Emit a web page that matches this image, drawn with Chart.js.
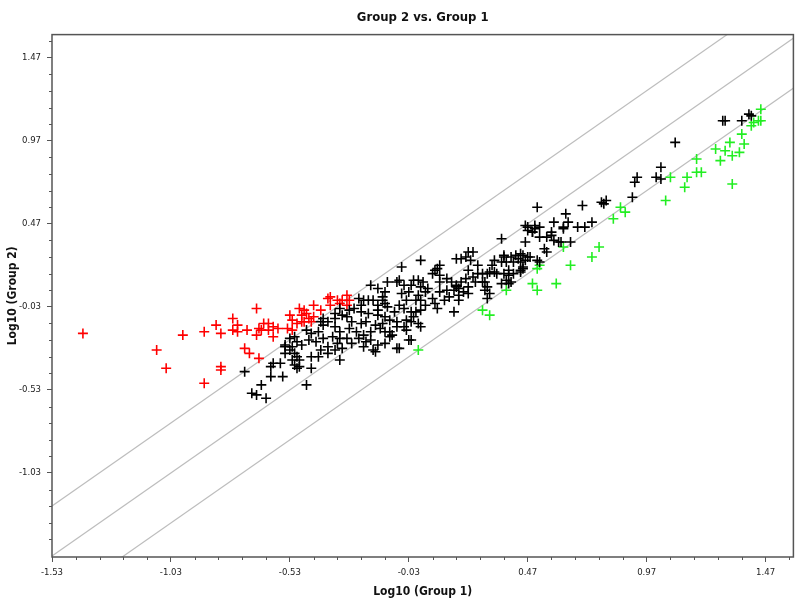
<!DOCTYPE html>
<html>
<head>
<meta charset="utf-8">
<title>Group 2 vs. Group 1</title>
<script src="https://cdn.jsdelivr.net/npm/chart.js@4.4.1/dist/chart.umd.min.js"></script>
<style>
  html, body { margin: 0; padding: 0; background: #fff; }
  #wrap { width: 800px; height: 604px; }
</style>
</head>
<body>
<div id="wrap"><canvas id="scatterCanvas"></canvas></div>
<script>
// tick labels (major)
const xTicks = [-1.53, -1.03, -0.53, -0.03, 0.47, 0.97, 1.47];
const yTicks = [-1.03, -0.53, -0.03, 0.47, 0.97, 1.47];
const minorStep = 0.1;
const xRange = [-1.53, 1.587];
const yRange = [-1.536, 1.609];

// reference lines y = x + offset (2-fold lines and identity)
const lineOffsets = [0.301, 0, -0.301];
const lineX = [-2, 2];

// points, [log10 group 1, log10 group 2]
const redPts = [
  [-1.40, -0.19], [-1.09, -0.29], [-1.05, -0.40], [-0.98, -0.20], [-0.89, -0.18],
  [-0.89, -0.49], [-0.84, -0.14], [-0.82, -0.19], [-0.82, -0.39], [-0.82, -0.41],
  [-0.77, -0.10], [-0.77, -0.17], [-0.75, -0.14], [-0.75, -0.18], [-0.71, -0.17],
  [-0.72, -0.28], [-0.70, -0.31], [-0.67, -0.04], [-0.66, -0.34], [-0.67, -0.20],
  [-0.66, -0.16], [-0.64, -0.13], [-0.62, -0.13], [-0.60, -0.15], [-0.58, -0.16],
  [-0.60, -0.21], [-0.53, -0.08], [-0.52, -0.11], [-0.52, -0.17], [-0.54, -0.16],
  [-0.49, -0.04], [-0.47, -0.05], [-0.48, -0.08], [-0.46, -0.07], [-0.45, -0.10],
  [-0.44, -0.12], [-0.47, -0.12], [-0.43, -0.02], [-0.43, -0.09], [-0.40, -0.05],
  [-0.36, -0.02], [-0.36, 0.03], [-0.33, 0.01], [-0.32, -0.01], [-0.31, 0.01],
  [-0.29, 0.04], [-0.28, 0.01], [-0.29, -0.02], [-0.37, 0.02], [-0.50, -0.13],
  [-0.65, -0.17], [-0.62, -0.17], [-0.48, -0.12]
];

const greenPts = [
  [0.01, -0.29], [0.28, -0.05], [0.31, -0.08], [0.38, 0.07], [0.49, 0.11],
  [0.51, 0.07], [0.51, 0.20], [0.52, 0.22], [0.59, 0.11], [0.62, 0.33],
  [0.65, 0.22], [0.74, 0.27], [0.77, 0.33], [0.83, 0.50], [0.86, 0.57],
  [0.88, 0.54], [1.05, 0.61], [1.07, 0.75], [1.13, 0.69], [1.14, 0.75],
  [1.18, 0.86], [1.18, 0.78], [1.20, 0.78], [1.26, 0.92], [1.28, 0.85],
  [1.30, 0.91], [1.32, 0.96], [1.33, 0.88], [1.33, 0.71], [1.36, 0.90],
  [1.37, 1.01], [1.38, 0.95], [1.41, 1.06], [1.42, 1.08], [1.44, 1.09],
  [1.45, 1.09], [1.45, 1.16]
];

const blackPts = [
  [1.29, 1.09], [1.30, 1.09], [1.37, 1.09], [1.40, 1.13], [1.41, 1.12],
  [1.09, 0.96], [1.03, 0.81], [1.01, 0.75], [1.03, 0.74], [0.93, 0.75],
  [0.92, 0.72], [0.91, 0.63], [0.78, 0.60], [0.80, 0.61], [0.79, 0.59],
  [0.70, 0.58], [0.63, 0.53], [0.64, 0.48], [0.68, 0.45], [0.71, 0.45],
  [0.74, 0.48], [0.58, 0.48], [0.51, 0.57], [0.50, 0.46], [0.47, 0.45],
  [0.52, 0.45], [0.49, 0.42], [0.52, 0.39], [0.55, 0.39], [0.57, 0.40],
  [0.58, 0.37], [0.62, 0.45], [0.61, 0.36], [0.65, 0.36], [0.46, 0.36],
  [0.55, 0.30], [0.47, 0.27], [0.36, 0.38], [0.44, 0.29], [0.37, 0.27],
  [0.40, 0.27], [0.33, 0.25], [0.32, 0.22], [0.36, 0.24], [0.41, 0.24],
  [0.44, 0.24], [0.46, 0.25], [0.52, 0.24], [0.39, 0.19], [0.41, 0.17],
  [0.44, 0.19], [0.45, 0.21], [0.37, 0.17], [0.34, 0.17], [0.30, 0.17],
  [0.26, 0.22], [0.24, 0.30], [0.22, 0.30], [0.21, 0.27], [0.19, 0.26],
  [0.17, 0.26], [0.23, 0.25], [0.26, 0.17], [0.22, 0.19], [0.24, 0.15],
  [0.19, 0.12], [0.17, 0.09], [0.15, 0.12], [0.39, 0.11], [0.40, 0.12],
  [0.30, 0.09], [0.28, 0.12], [0.31, 0.05], [0.36, 0.11], [0.54, 0.32],
  [0.45, 0.28], [0.48, 0.27], [0.51, 0.25], [0.45, 0.20], [0.44, 0.18],
  [0.57, 0.42], [0.62, 0.44], [0.47, 0.43], [0.49, 0.42], [0.60, 0.36],
  [0.46, 0.46], [0.50, 0.44], [0.02, 0.25], [-0.06, 0.21], [0.37, 0.28],
  [0.38, 0.24], [0.42, 0.28], [0.43, 0.26], [0.39, 0.16], [0.38, 0.13],
  [0.33, 0.18], [0.31, 0.18], [0.28, 0.17], [0.29, 0.12], [0.29, 0.07],
  [0.30, 0.02], [0.25, 0.12], [0.22, 0.09], [0.20, 0.06], [0.22, 0.05],
  [0.18, 0.08], [0.21, 0.14], [0.09, 0.20], [0.07, 0.17], [0.10, 0.16],
  [0.10, 0.12], [0.13, 0.14], [0.17, 0.10], [0.13, 0.07], [0.16, 0.07],
  [0.14, 0.03], [0.18, 0.04], [0.18, 0.01], [0.10, 0.06], [0.12, 0.01],
  [0.08, -0.01], [0.09, -0.04], [0.07, 0.02], [0.05, 0.08], [0.03, 0.12],
  [0.01, 0.13], [-0.01, 0.13], [-0.02, 0.10], [0.02, 0.09], [0.04, 0.06],
  [0.01, 0.04], [0.02, 0.01], [0.00, 0.01], [0.04, -0.02], [0.02, -0.05],
  [0.00, -0.06], [-0.02, -0.06], [-0.01, -0.09], [-0.02, -0.12], [0.01, -0.13],
  [0.02, -0.15], [-0.04, -0.11], [-0.05, -0.15], [-0.04, -0.17], [-0.02, -0.23],
  [-0.07, -0.28], [-0.10, -0.20], [-0.13, -0.18], [-0.14, -0.13], [-0.11, -0.11],
  [-0.13, -0.09], [-0.09, -0.06], [-0.05, -0.04], [-0.07, -0.02], [-0.04, 0.01],
  [-0.06, 0.05], [-0.03, 0.06], [-0.05, 0.10], [-0.12, 0.12], [-0.07, 0.13],
  [-0.13, 0.06], [-0.14, 0.01], [-0.12, -0.03], [-0.16, -0.05], [0.16, -0.06],
  [0.10, 0.22], [0.08, 0.19], [-0.19, 0.10], [-0.16, 0.08], [-0.08, 0.12],
  [-0.24, 0.02], [-0.22, 0.01], [-0.20, 0.01], [-0.18, 0.01], [-0.14, 0.03],
  [-0.13, -0.01], [-0.16, -0.02], [-0.23, -0.02], [-0.26, -0.04], [-0.28, -0.05],
  [-0.23, -0.06], [-0.20, -0.07], [-0.16, -0.08], [-0.08, -0.12], [-0.32, -0.04],
  [-0.34, -0.07], [-0.31, -0.08], [-0.29, -0.09], [-0.27, -0.12], [-0.23, -0.13],
  [-0.21, -0.12], [-0.17, -0.14], [-0.15, -0.16], [-0.11, -0.18], [-0.19, -0.18],
  [-0.22, -0.20], [-0.25, -0.18], [-0.28, -0.16], [-0.32, -0.18], [-0.34, -0.15],
  [-0.34, -0.10], [-0.39, -0.10], [-0.37, -0.12], [-0.39, -0.14], [-0.35, -0.21],
  [-0.32, -0.22], [-0.29, -0.22], [-0.27, -0.25], [-0.24, -0.22], [-0.21, -0.24],
  [-0.19, -0.23], [-0.16, -0.26], [-0.13, -0.25], [-0.11, -0.21], [-0.18, -0.29],
  [-0.31, -0.28], [-0.33, -0.25], [-0.34, -0.29], [-0.37, -0.27], [-0.39, -0.22],
  [-0.41, -0.18], [-0.42, -0.24], [-0.40, -0.29], [-0.37, -0.31], [-0.32, -0.35],
  [-0.44, -0.19], [-0.45, -0.23], [-0.46, -0.17], [-0.40, -0.12], [-0.53, -0.22],
  [-0.51, -0.21], [-0.50, -0.24], [-0.52, -0.27], [-0.55, -0.27], [-0.53, -0.29],
  [-0.51, -0.31], [-0.48, -0.26], [-0.50, -0.33], [-0.49, -0.35], [-0.52, -0.35],
  [-0.49, -0.39], [-0.51, -0.38], [-0.50, -0.40], [-0.44, -0.40], [-0.46, -0.50],
  [-0.55, -0.26], [-0.55, -0.31], [-0.57, -0.37], [-0.60, -0.37], [-0.61, -0.39],
  [-0.56, -0.45], [-0.61, -0.45], [-0.65, -0.50], [-0.69, -0.55], [-0.67, -0.56],
  [-0.63, -0.58], [-0.72, -0.42], [-0.44, -0.33], [-0.41, -0.33], [-0.22, -0.27],
  [-0.17, -0.30], [-0.08, -0.28], [-0.03, -0.23], [-0.08, -0.15]
];

const axisColor = '#555555';
const refLineColor = '#bdbdbd';
const fontFamily = '"DejaVu Sans Condensed", "DejaVu Sans", sans-serif';

const toXY = pts => pts.map(p => ({ x: p[0], y: p[1] }));

const refLines = lineOffsets.map(off => ({
    type: 'line',
    data: lineX.map(x => ({ x: x, y: x + off })),
    borderColor: refLineColor,
    borderWidth: 1.2,
    pointRadius: 0,
    fill: false,
    order: 10
}));

function pointSet(pts, color) {
    return {
        type: 'scatter',
        data: toXY(pts),
        pointStyle: 'cross',
        pointRadius: 5,
        pointBorderWidth: 1.6,
        borderColor: color,
        backgroundColor: color,
        order: 1
    };
}

// box round the plot and the small ticks between labels
const framePlugin = {
    id: 'frame',
    afterDraw(chart) {
        const { ctx, chartArea: a, scales: { x, y } } = chart;
        ctx.save();
        ctx.strokeStyle = axisColor;
        ctx.lineWidth = 1;
        ctx.beginPath();
        for (let k = -10; k <= 40; k++) {
            if (k % 5 === 0) continue;
            const vx = xTicks[0] + k * minorStep;
            if (vx > x.min && vx < x.max) {
                const px = Math.round(x.getPixelForValue(vx)) + 0.5;
                ctx.moveTo(px, a.bottom);
                ctx.lineTo(px, a.bottom + 3);
            }
            const vy = yTicks[0] + k * minorStep;
            if (vy > y.min && vy < y.max) {
                const py = Math.round(y.getPixelForValue(vy)) + 0.5;
                ctx.moveTo(a.left, py);
                ctx.lineTo(a.left - 3, py);
            }
        }
        ctx.stroke();
        ctx.lineWidth = 1.5;
        ctx.strokeRect(a.left, a.top, a.right - a.left, a.bottom - a.top);
        ctx.restore();
    }
};

const ctx = document.getElementById('scatterCanvas').getContext('2d');

const scatterChart = new Chart(ctx, {
    type: 'scatter',
    data: {
        datasets: [
            ...refLines,
            pointSet(blackPts, '#000000'),
            pointSet(redPts, '#ff0000'),
            pointSet(greenPts, '#22ee22')
        ]
    },
    options: {
        responsive: true,
        maintainAspectRatio: false,
        animation: false,
        layout: { padding: { left: 0, right: 4, top: 0, bottom: 0 } },
        plugins: {
            legend: { display: false },
            tooltip: { enabled: false },
            title: {
                display: true,
                fullSize: false,
                text: 'Group 2 vs. Group 1',
                color: '#111',
                font: { family: fontFamily, size: 13, weight: 'bold' },
                padding: { top: 10, bottom: 9 }
            }
        },
        scales: {
            x: {
                type: 'linear',
                position: 'bottom',
                min: xRange[0],
                max: xRange[1],
                afterBuildTicks: s => { s.ticks = xTicks.map(v => ({ value: v })); },
                afterFit: s => { s.height = 47; },
                grid: { drawOnChartArea: false, drawTicks: true, tickLength: 5, color: axisColor },
                border: { display: false },
                ticks: {
                    maxRotation: 0,
                    autoSkip: false,
                    padding: 5,
                    color: '#222',
                    font: { family: fontFamily, size: 9.5 },
                    callback: v => Number(v).toFixed(2)
                },
                title: {
                    display: true,
                    text: 'Log10 (Group 1)',
                    color: '#111',
                    font: { family: fontFamily, size: 12, weight: 'bold' },
                    padding: { top: 0, bottom: 5 }
                }
            },
            y: {
                type: 'linear',
                min: yRange[0],
                max: yRange[1],
                afterBuildTicks: s => { s.ticks = yTicks.map(v => ({ value: v })); },
                afterFit: s => { s.width = 52; },
                grid: { drawOnChartArea: false, drawTicks: true, tickLength: 5, color: axisColor },
                border: { display: false },
                ticks: {
                    autoSkip: false,
                    padding: 6,
                    color: '#222',
                    font: { family: fontFamily, size: 9.5 },
                    callback: v => Number(v).toFixed(2)
                },
                title: {
                    display: true,
                    text: 'Log10 (Group 2)',
                    color: '#111',
                    font: { family: fontFamily, size: 12, weight: 'bold' },
                    padding: { top: 6, bottom: 0 }
                }
            }
        }
    },
    plugins: [framePlugin]
});
</script>
</body>
</html>
